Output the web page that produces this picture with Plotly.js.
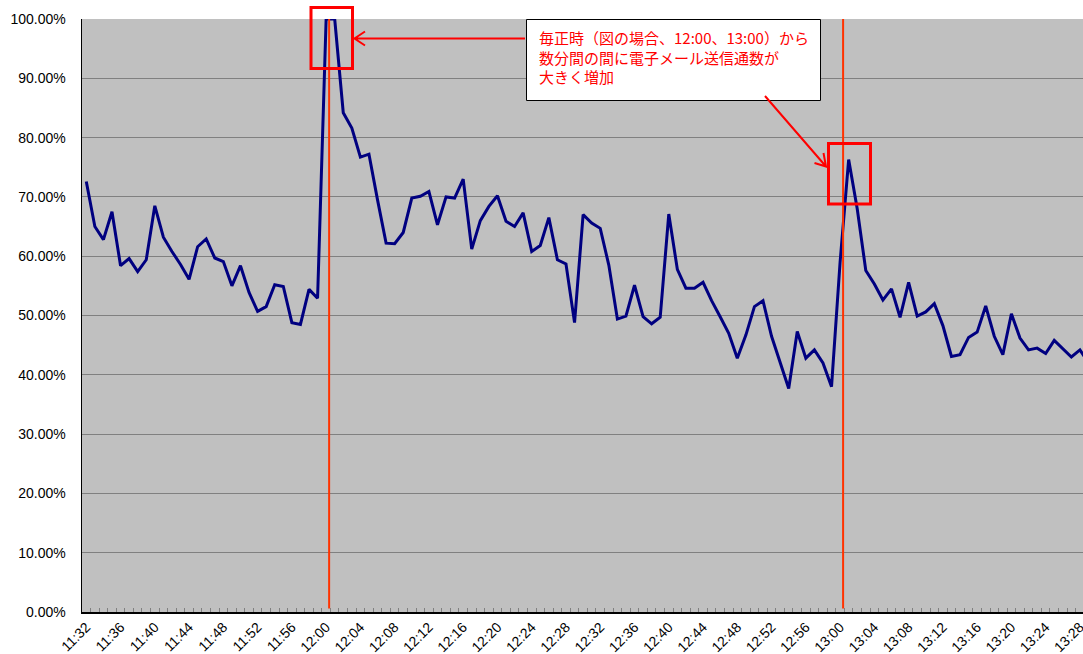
<!DOCTYPE html>
<html>
<head>
<meta charset="utf-8">
<script src="https://cdn.plot.ly/plotly-3.0.1.min.js"></script>
<style>html,body{margin:0;padding:0;background:#fff;}#chart{width:1083px;height:654px;}</style>
</head>
<body>
<div id="chart"></div>
<script>
// ---- data ----
const startHour = 11, startMinute = 32, pointCount = 118;
const times = Array.from({length: pointCount}, function (_, i) {
  const t = startHour * 60 + startMinute + i;
  return Math.floor(t / 60) + ':' + String(t % 60).padStart(2, '0');
});
// e-mail sending ratio (%)
const ratio = [
  72.6, 65.0, 62.8, 67.5, 58.4, 59.6, 57.4, 59.4, 68.5, 63.2,
  60.8, 58.6, 56.1, 61.6, 62.9, 59.7, 59.1, 55.0, 58.4, 53.9,
  50.7, 51.5, 55.2, 54.9, 48.8, 48.5, 54.4, 52.9, 100, 100,
  84.2, 81.6, 76.7, 77.2, 69.5, 62.2, 62.1, 64.0, 69.8, 70.1,
  70.9, 65.3, 70.0, 69.8, 73.0, 61.2, 66.0, 68.4, 70.2, 65.9,
  65.0, 67.3, 60.8, 61.8, 66.5, 59.4, 58.7, 48.8, 67.0, 65.6,
  64.7, 58.5, 49.4, 49.9, 55.1, 49.8, 48.6, 49.7, 67.1, 57.8,
  54.6, 54.6, 55.6, 52.5, 49.8, 47.0, 42.8, 46.7, 51.5, 52.5,
  46.5, 42.0, 37.7, 47.3, 42.8, 44.2, 42.0, 38.0, 59.0, 76.3,
  68.0, 57.6, 55.3, 52.6, 54.5, 49.7, 55.6, 49.9, 50.6, 52.0,
  48.3, 43.1, 43.4, 46.3, 47.2, 51.6, 46.5, 43.4, 50.3, 46.2,
  44.2, 44.5, 43.6, 45.8, 44.4, 43.0, 44.2, 42.0
];
const labelEvery = 4;
const tickText = times.map(function (t, i) { return i % labelEvery === 0 ? t : ''; });
const yTicks = [0, 10, 20, 30, 40, 50, 60, 70, 80, 90, 100];
const yTickLabels = ['0.00%', '10.00%', '20.00%', '30.00%', '40.00%', '50.00%', '60.00%', '70.00%', '80.00%', '90.00%', '100.00%'];
const noteText = '毎正時（図の場合、12:00、13:00）から<br>数分間の間に電子メール送信通数が<br>大きく増加';
const hourMarks = ['12:00', '13:00'];

// ---- layout helpers (pixel -> paper) ----
const W = 1083, H = 654, L = 82, R = 0, T = 19, B = 42;
const pw = W - L - R, ph = H - T - B;
function px(x) { return (x - L) / pw; }
function py(y) { return (H - B - y) / ph; }

const red = '#FF0000';
const shapes = [];
// vertical marker lines near each full hour
hourMarks.forEach(function (h) {
  const idx = times.indexOf(h);
  shapes.push({type: 'line', xref: 'x', yref: 'y', x0: idx + 0.35, x1: idx + 0.35, y0: 0.6, y1: 100,
    line: {color: '#FF3300', width: 2}});
});
// highlight boxes
shapes.push({type: 'rect', xref: 'paper', yref: 'paper', x0: px(311), x1: px(352.5), y0: py(7.5), y1: py(68.5),
  line: {color: red, width: 3}, fillcolor: 'rgba(0,0,0,0)'});
shapes.push({type: 'rect', xref: 'paper', yref: 'paper', x0: px(828.5), x1: px(870.5), y0: py(143.5), y1: py(204),
  line: {color: red, width: 3}, fillcolor: 'rgba(0,0,0,0)'});
// note box
shapes.push({type: 'rect', xref: 'paper', yref: 'paper', x0: px(526.5), x1: px(820.5), y0: py(19.5), y1: py(100.5),
  line: {color: '#000000', width: 1}, fillcolor: '#FFFFFF'});
// arrows (open heads)
function path(pts) {
  return pts.map(function (p, i) { return (p[2] ? 'M' : (i === 0 ? 'M' : 'L')) + px(p[0]) + ',' + py(p[1]); }).join(' ');
}
shapes.push({type: 'path', xref: 'paper', yref: 'paper',
  path: path([[525, 38.5], [354.5, 38.5], [365, 31.5, true], [354.5, 38.5], [365, 45.5]]),
  line: {color: red, width: 2}});
shapes.push({type: 'path', xref: 'paper', yref: 'paper',
  path: path([[765, 96], [826, 166.5], [814.5, 163, true], [826, 166.5], [823.5, 153]]),
  line: {color: red, width: 2}});

const data = [{
  type: 'scatter', mode: 'lines', x: times, y: ratio,
  line: {color: '#000080', width: 3},
  hoverinfo: 'x+y'
}];

const layout = {
  width: W, height: H,
  margin: {l: L, r: R, t: T, b: B, pad: 0},
  paper_bgcolor: '#FFFFFF', plot_bgcolor: '#C0C0C0',
  showlegend: false,
  font: {family: 'Liberation Sans, Arial, sans-serif', color: '#000000'},
  xaxis: {
    type: 'category', range: [-0.5, -0.5 + pw / 8.566],
    tickmode: 'array', tickvals: times, ticktext: tickText,
    tickangle: -45, tickson: 'boundaries',
    ticks: 'inside', ticklen: 4, tickcolor: '#808080', tickwidth: 1,
    showgrid: false, showline: true, linecolor: '#000000', linewidth: 1.5,
    tickfont: {size: 14, color: '#000000'}, automargin: false
  },
  yaxis: {
    range: [0, 100], tickmode: 'array', tickvals: yTicks, ticktext: yTickLabels,
    showgrid: true, gridcolor: '#808080', gridwidth: 1,
    zeroline: false, showline: true, linecolor: '#000000', linewidth: 1.5,
    ticks: '', ticklabelstandoff: 12,
    tickfont: {size: 14, color: '#000000'}, automargin: false
  },
  shapes: shapes,
  annotations: [{
    xref: 'paper', yref: 'paper', x: px(537), y: py(25), xanchor: 'left', yanchor: 'top',
    text: noteText, showarrow: false, align: 'left',
    font: {family: 'Noto Sans CJK JP, sans-serif', size: 15, color: red}
  }]
};

Plotly.newPlot('chart', data, layout, {staticPlot: true, displayModeBar: false});
</script>
</body>
</html>
